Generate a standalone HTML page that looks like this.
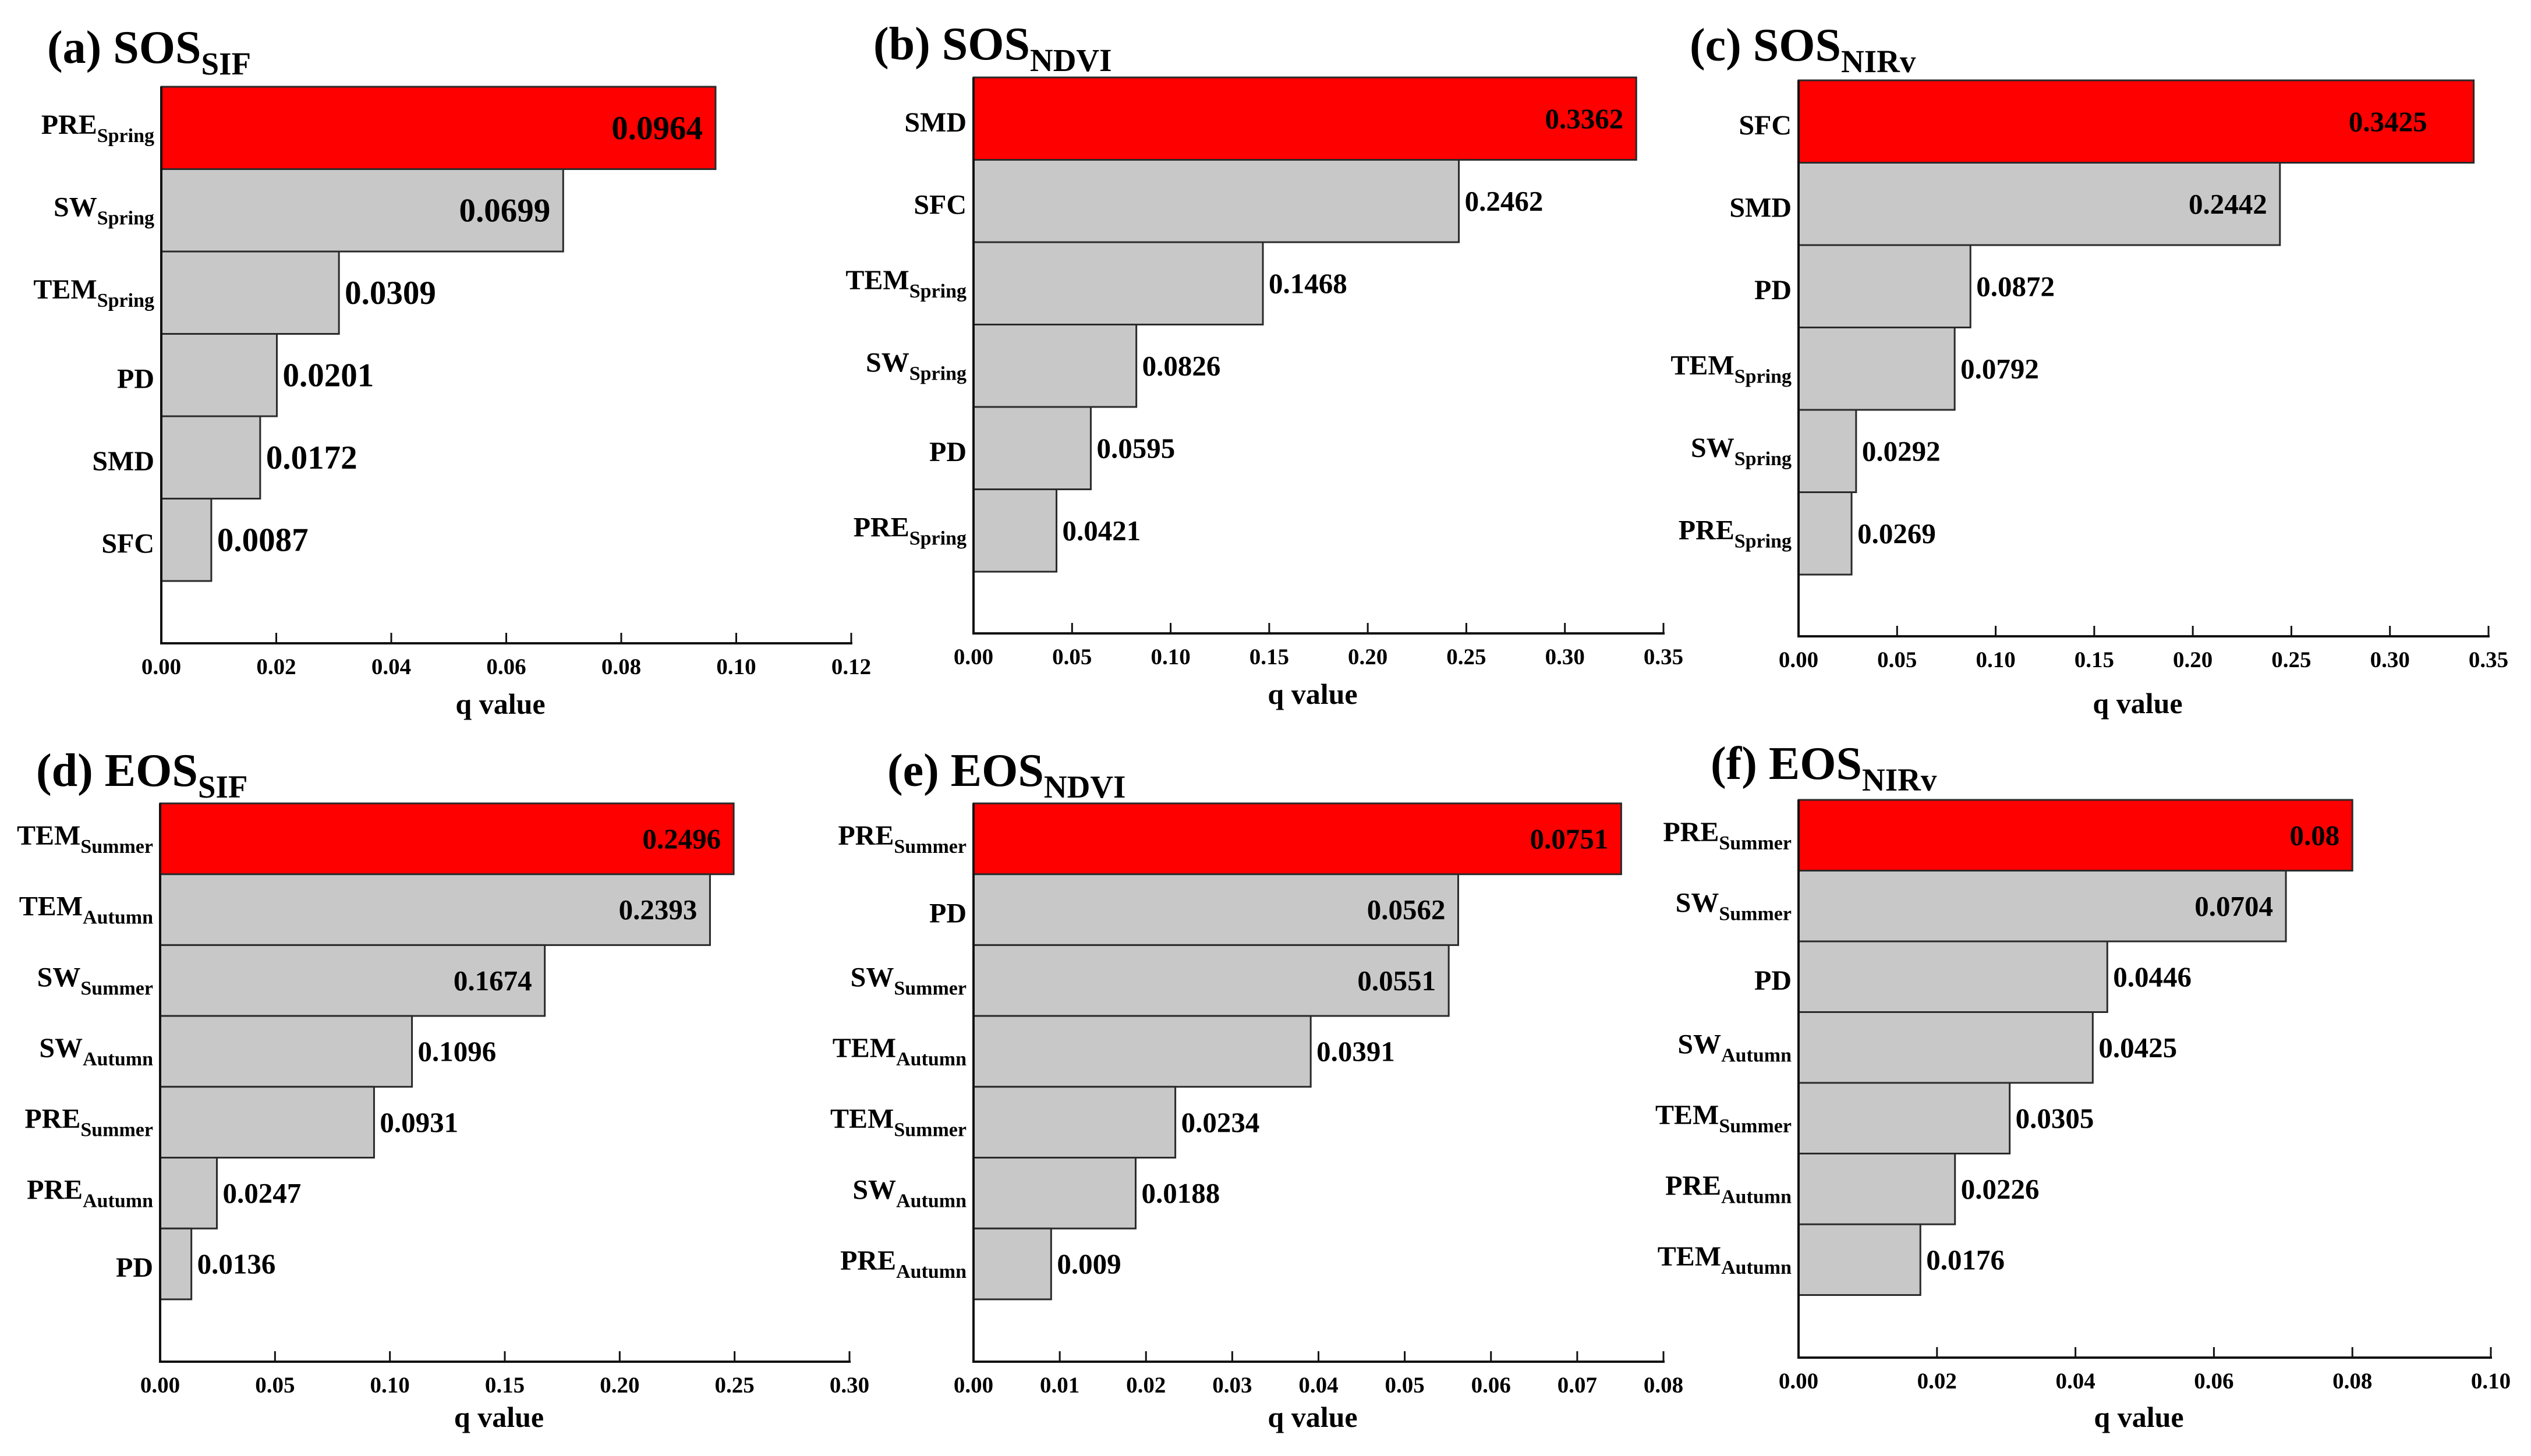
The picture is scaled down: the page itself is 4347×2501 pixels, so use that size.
<!DOCTYPE html>
<html><head><meta charset="utf-8">
<style>
html,body{margin:0;padding:0;background:#fff;}
svg{display:block;}
text{font-family:"Liberation Serif","Times New Roman",serif;font-weight:bold;fill:#000;}
</style></head>
<body>
<svg id="fig" width="4347" height="2501" viewBox="0 0 4347 2501" xmlns="http://www.w3.org/2000/svg"></svg>
<script>
// ---- data ----
const catsA = [["PRE","Spring"],["SW","Spring"],["TEM","Spring"],["PD",""],["SMD",""],["SFC",""]];
const valsA = [0.0964,0.0699,0.0309,0.0201,0.0172,0.0087];
const labsA = ["0.0964","0.0699","0.0309","0.0201","0.0172","0.0087"];
const inA = [1,1,0,0,0,0];

const catsB = [["SMD",""],["SFC",""],["TEM","Spring"],["SW","Spring"],["PD",""],["PRE","Spring"]];
const valsB = [0.3362,0.2462,0.1468,0.0826,0.0595,0.0421];
const labsB = ["0.3362","0.2462","0.1468","0.0826","0.0595","0.0421"];
const inB = [1,0,0,0,0,0];

const catsC = [["SFC",""],["SMD",""],["PD",""],["TEM","Spring"],["SW","Spring"],["PRE","Spring"]];
const valsC = [0.3425,0.2442,0.0872,0.0792,0.0292,0.0269];
const labsC = ["0.3425","0.2442","0.0872","0.0792","0.0292","0.0269"];
const inC = [1,1,0,0,0,0];

const catsD = [["TEM","Summer"],["TEM","Autumn"],["SW","Summer"],["SW","Autumn"],["PRE","Summer"],["PRE","Autumn"],["PD",""]];
const valsD = [0.2496,0.2393,0.1674,0.1096,0.0931,0.0247,0.0136];
const labsD = ["0.2496","0.2393","0.1674","0.1096","0.0931","0.0247","0.0136"];
const inD = [1,1,1,0,0,0,0];

const catsE = [["PRE","Summer"],["PD",""],["SW","Summer"],["TEM","Autumn"],["TEM","Summer"],["SW","Autumn"],["PRE","Autumn"]];
const valsE = [0.0751,0.0562,0.0551,0.0391,0.0234,0.0188,0.009];
const labsE = ["0.0751","0.0562","0.0551","0.0391","0.0234","0.0188","0.009"];
const inE = [1,1,1,0,0,0,0];

const catsF = [["PRE","Summer"],["SW","Summer"],["PD",""],["SW","Autumn"],["TEM","Summer"],["PRE","Autumn"],["TEM","Autumn"]];
const valsF = [0.08,0.0704,0.0446,0.0425,0.0305,0.0226,0.0176];
const labsF = ["0.08","0.0704","0.0446","0.0425","0.0305","0.0226","0.0176"];
const inF = [1,1,0,0,0,0,0];

const ticksA = ["0.00","0.02","0.04","0.06","0.08","0.10","0.12"];
const ticksB = ["0.00","0.05","0.10","0.15","0.20","0.25","0.30","0.35"];
const ticksC = ["0.00","0.05","0.10","0.15","0.20","0.25","0.30","0.35"];
const ticksD = ["0.00","0.05","0.10","0.15","0.20","0.25","0.30"];
const ticksE = ["0.00","0.01","0.02","0.03","0.04","0.05","0.06","0.07","0.08"];
const ticksF = ["0.00","0.02","0.04","0.06","0.08","0.10"];

// ---- layout ----
const panels = [
 {id:"a",letter:"(a)",main:"SOS",sub:"SIF",cats:catsA,vals:valsA,labs:labsA,ins:inA,ticks:ticksA,
  x0:277,x1:1462,top:149,bh:141.5,ay:1105,tx:81,ty:108,qdy:104,vfs:57,topPad:22},
 {id:"b",letter:"(b)",main:"SOS",sub:"NDVI",cats:catsB,vals:valsB,labs:labsB,ins:inB,ticks:ticksB,
  x0:1672,x1:2857,top:133,bh:141.5,ay:1088,tx:1500,ty:102,qdy:104,vfs:49,topPad:22},
 {id:"c",letter:"(c)",main:"SOS",sub:"NIRv",cats:catsC,vals:valsC,labs:labsC,ins:inC,ticks:ticksC,
  x0:3089,x1:4274,top:138,bh:141.5,ay:1093,tx:2902,ty:104,qdy:115,vfs:49,topPad:80},
 {id:"d",letter:"(d)",main:"EOS",sub:"SIF",cats:catsD,vals:valsD,labs:labsD,ins:inD,ticks:ticksD,
  x0:275,x1:1459,top:1380,bh:121.7,ay:2339,tx:62,ty:1350,qdy:95,vfs:49,topPad:22},
 {id:"e",letter:"(e)",main:"EOS",sub:"NDVI",cats:catsE,vals:valsE,labs:labsE,ins:inE,ticks:ticksE,
  x0:1672,x1:2857,top:1380,bh:121.7,ay:2339,tx:1524,ty:1350,qdy:95,vfs:49,topPad:22},
 {id:"f",letter:"(f)",main:"EOS",sub:"NIRv",cats:catsF,vals:valsF,labs:labsF,ins:inF,ticks:ticksF,
  x0:3089,x1:4278,top:1374,bh:121.5,ay:2332,tx:2938,ty:1338,qdy:102,vfs:49,topPad:22}
];

const NS = "http://www.w3.org/2000/svg";
const svg = document.getElementById("fig");
function mk(tag, attrs, parent){
  const e = document.createElementNS(NS, tag);
  for (const k in attrs) e.setAttribute(k, attrs[k]);
  (parent||svg).appendChild(e);
  return e;
}

panels.forEach(p => {
  const g = mk("g", {});
  
  
  const tmax = parseFloat(p.ticks[p.ticks.length-1]);
  const xs = v => p.x0 + (v / tmax) * (p.x1 - p.x0);
  const yb = i => p.top + i * p.bh;

  const t = mk("text", {x:p.tx, y:p.ty, "font-size":80}, g);
  
  
  t.textContent = p.letter + " " + p.main;
  const ts = mk("tspan", {dy:20, "font-size":55}, t);
  ts.textContent = p.sub;

  p.vals.forEach((v, i) => {
    const r = mk("rect", {x:p.x0, y:yb(i), width:xs(v)-p.x0, height:p.bh,
      fill: i===0 ? "#ff0000" : "#c8c8c8", stroke:"#2a2a2a", "stroke-width":3}, g);
    
    
    const cy = yb(i) + p.bh/2;
    const inside = p.ins[i] === 1;
    const pad = i === 0 ? p.topPad : 22;
    const vl = mk("text", {x: inside ? xs(v) - pad : xs(v) + 10, y: cy + p.vfs*0.34,
      "font-size":p.vfs, "text-anchor": inside ? "end" : "start"}, g);
    
    
    vl.textContent = p.labs[i];

    const c = p.cats[i];
    const hasSub = c[1] !== "";
    const cl = mk("text", {x:p.x0 - 12, y: cy + (hasSub ? 10 : 22), "font-size":48, "text-anchor":"end"}, g);
    
    
    cl.appendChild(document.createTextNode(c[0]));
    if (hasSub) {
      const s = mk("tspan", {dy:14, "font-size":34}, cl);
      s.textContent = c[1];
    }
  });

  const ya = mk("line", {x1:p.x0, y1:p.top, x2:p.x0, y2:p.ay, stroke:"#111", "stroke-width":4}, g);
  
  
  const xa = mk("line", {x1:p.x0-2, y1:p.ay, x2:p.x1+2, y2:p.ay, stroke:"#111", "stroke-width":4}, g);
  
  

  p.ticks.forEach((tl, k) => {
    const x = xs(parseFloat(tl));
    const tk = mk("line", {x1:x, y1:p.ay, x2:x, y2:p.ay-18, stroke:"#111", "stroke-width":3}, g);
    
    
    const tt = mk("text", {x:x, y:p.ay+53, "font-size":39, "text-anchor":"middle"}, g);
    
    
    tt.textContent = tl;
  });

  const q = mk("text", {x:(p.x0+p.x1)/2 - 10, y:p.ay + p.qdy + 17, "font-size":50, "text-anchor":"middle"}, g);
  
  
  q.textContent = "q value";
});
</script>
</body></html>
